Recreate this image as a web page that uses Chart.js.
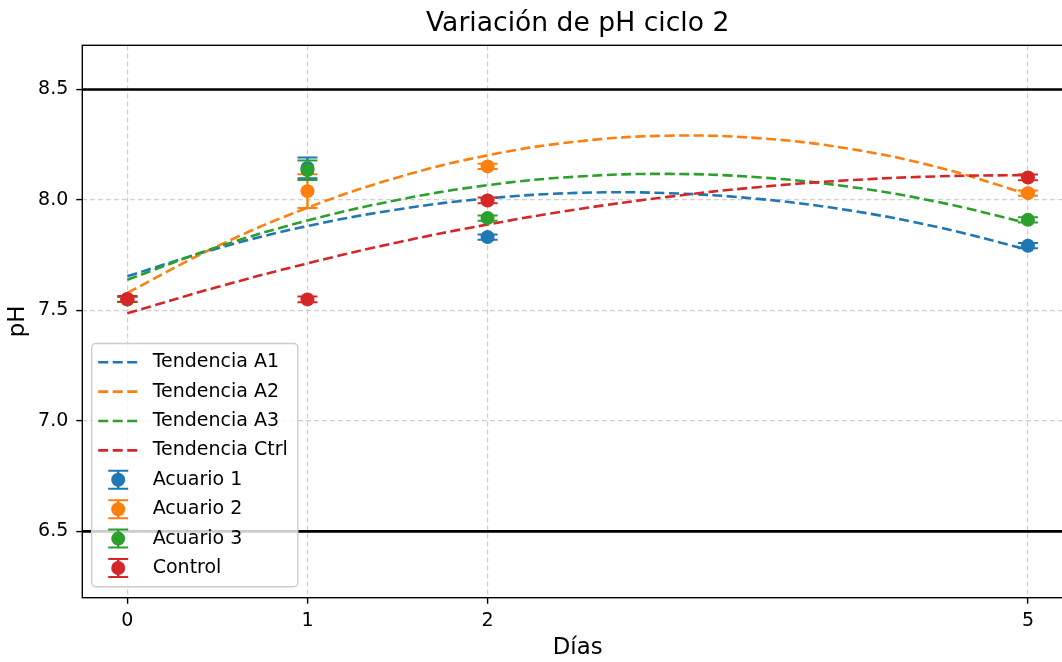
<!DOCTYPE html>
<html lang="es">
<head>
<meta charset="utf-8">
<title>Variación de pH ciclo 2</title>
<script src="https://cdn.jsdelivr.net/npm/chart.js@4"></script>
<style>
    html, body { margin: 0; padding: 0; overflow: hidden; background: #fff; }
    #wrap { width: 1080px; height: 662px; }
</style>
</head>
<body>
<div id="wrap"><canvas id="grafico" width="1080" height="662"></canvas></div>
<script>
// Datos
const dias = [0, 1, 2, 5];
const acuario1 = [7.55, 8.145, 7.832, 7.793];
const acuario2 = [7.55, 8.04, 8.152, 8.031];
const acuario3 = [7.55, 8.135, 7.918, 7.91];
const control = [7.552, 7.55, 7.998, 8.102];

// Desviaciones (barras de error)
const errA1 = [0.012, 0.047, 0.012, 0.012];
const errA2 = [0.012, 0.076, 0.012, 0.012];
const errA3 = [0.012, 0.044, 0.012, 0.012];
const errCtrl = [0.013, 0.013, 0.013, 0.013];

// Curvas de tendencia
const diasTendencia = [0, 0.5, 1, 1.5, 2, 2.5, 3, 3.5, 4, 4.5, 5];
const tendA1 = [7.655, 7.781, 7.882, 7.957, 8.007, 8.032, 8.031, 8.005, 7.954, 7.877, 7.775];
const tendA2 = [7.580, 7.791, 7.965, 8.102, 8.202, 8.265, 8.291, 8.280, 8.233, 8.148, 8.026];
const tendA3 = [7.639, 7.787, 7.907, 8.000, 8.067, 8.106, 8.118, 8.103, 8.061, 7.991, 7.895];
const tendCtrl = [7.487, 7.606, 7.713, 7.808, 7.889, 7.958, 8.014, 8.058, 8.089, 8.107, 8.113];

// Ejes
const ticksDias = [0, 1, 2, 5];
const ticksPH = [6.5, 7.0, 7.5, 8.0, 8.5];
const limitesPH = [6.5, 8.5];

const AZUL = '#1f77b4';
const NARANJA = '#ff7f0e';
const VERDE = '#2ca02c';
const ROJO = '#d62728';

const FUENTE = "'DejaVu Sans', sans-serif";
const TAM_TICKS = 19;

const puntos = (xs, ys) => xs.map((x, i) => ({ x: x, y: ys[i] }));

const tendencia = (label, ys, color, orden) => ({
    type: 'line',
    label: label,
    data: puntos(diasTendencia, ys),
    borderColor: color,
    backgroundColor: color,
    borderWidth: 2.6,
    borderDash: [10, 4.5],
    pointRadius: 0,
    tension: 0.4,
    fill: false,
    order: orden
});

const medicion = (label, ys, errores, color, orden) => ({
    type: 'scatter',
    label: label,
    data: puntos(dias, ys),
    errores: errores,
    backgroundColor: color,
    borderColor: color,
    borderWidth: 0,
    pointRadius: 7,
    pointHoverRadius: 7,
    order: orden
});

// Líneas horizontales de límite (6.5 y 8.5)
const limitesPlugin = {
    id: 'limites',
    beforeDatasetsDraw(chart) {
        const { ctx, chartArea, scales: { y } } = chart;
        ctx.save();
        ctx.strokeStyle = '#000';
        ctx.lineWidth = 2.6;
        limitesPH.forEach(v => {
            const py = y.getPixelForValue(v);
            ctx.beginPath();
            ctx.moveTo(chartArea.left, py);
            ctx.lineTo(chartArea.right, py);
            ctx.stroke();
        });
        ctx.restore();
    }
};

// Barras de error debajo de cada marcador
const barrasErrorPlugin = {
    id: 'barrasError',
    beforeDatasetDraw(chart, args) {
        const ds = chart.data.datasets[args.index];
        if (!ds.errores) return;
        const { ctx, scales: { x, y } } = chart;
        ctx.save();
        ctx.strokeStyle = ds.borderColor;
        ds.data.forEach((p, i) => {
            const px = x.getPixelForValue(p.x);
            const arriba = y.getPixelForValue(p.y + ds.errores[i]);
            const abajo = y.getPixelForValue(p.y - ds.errores[i]);
            ctx.lineWidth = 2.4;
            ctx.beginPath();
            ctx.moveTo(px, arriba);
            ctx.lineTo(px, abajo);
            ctx.stroke();
            ctx.lineWidth = 2;
            ctx.beginPath();
            ctx.moveTo(px - 10, arriba);
            ctx.lineTo(px + 10, arriba);
            ctx.moveTo(px - 10, abajo);
            ctx.lineTo(px + 10, abajo);
            ctx.stroke();
        });
        ctx.restore();
    }
};

// Marco de los ejes
const marcoPlugin = {
    id: 'marco',
    afterDatasetsDraw(chart) {
        const { ctx, chartArea: a } = chart;
        ctx.save();
        ctx.strokeStyle = '#000';
        ctx.lineWidth = 1.4;
        ctx.strokeRect(a.left, a.top, a.right - a.left, a.bottom - a.top);
        ctx.restore();
    }
};

// Leyenda estilo matplotlib, abajo a la izquierda
const leyendaPlugin = {
    id: 'leyendaAbajo',
    afterDraw(chart) {
        const { ctx, chartArea: a } = chart;
        const datasets = chart.data.datasets;
        const fila = 29.4;
        ctx.save();
        ctx.font = TAM_TICKS + 'px ' + FUENTE;
        const anchoTexto = Math.max(...datasets.map(d => ctx.measureText(d.label).width));
        const izq = a.left + 9.4;
        const alto = fila * datasets.length + 8;
        const abajo = a.bottom - 11;
        const arriba = abajo - alto;
        const ancho = 61 + anchoTexto + 10;

        ctx.beginPath();
        ctx.roundRect(izq, arriba, ancho, alto, 4);
        ctx.fillStyle = 'rgba(255,255,255,0.8)';
        ctx.fill();
        ctx.strokeStyle = '#cccccc';
        ctx.lineWidth = 1.4;
        ctx.stroke();

        datasets.forEach((d, i) => {
            const cy = arriba + 4 + fila * (i + 0.5);
            const x0 = izq + 6.5;
            const x1 = x0 + 40;
            const cx = (x0 + x1) / 2;
            if (d.errores) {
                ctx.strokeStyle = d.borderColor;
                ctx.lineWidth = 2.4;
                ctx.beginPath();
                ctx.moveTo(cx, cy - 9);
                ctx.lineTo(cx, cy + 9);
                ctx.stroke();
                ctx.lineWidth = 2;
                ctx.beginPath();
                ctx.moveTo(cx - 10, cy - 9);
                ctx.lineTo(cx + 10, cy - 9);
                ctx.moveTo(cx - 10, cy + 9);
                ctx.lineTo(cx + 10, cy + 9);
                ctx.stroke();
                ctx.fillStyle = d.backgroundColor;
                ctx.beginPath();
                ctx.arc(cx, cy, 7, 0, Math.PI * 2);
                ctx.fill();
            } else {
                ctx.strokeStyle = d.borderColor;
                ctx.lineWidth = 2.6;
                ctx.setLineDash(d.borderDash);
                ctx.beginPath();
                ctx.moveTo(x0, cy);
                ctx.lineTo(x1, cy);
                ctx.stroke();
                ctx.setLineDash([]);
            }
            ctx.fillStyle = '#000';
            ctx.textAlign = 'left';
            ctx.textBaseline = 'middle';
            ctx.fillText(d.label, izq + 61, cy);
        });
        ctx.restore();
    }
};

Chart.defaults.font.family = FUENTE;
Chart.defaults.color = '#000';

new Chart(document.getElementById('grafico'), {
    type: 'scatter',
    data: {
        datasets: [
            tendencia('Tendencia A1', tendA1, AZUL, 14),
            tendencia('Tendencia A2', tendA2, NARANJA, 13),
            tendencia('Tendencia A3', tendA3, VERDE, 12),
            tendencia('Tendencia Ctrl', tendCtrl, ROJO, 11),
            medicion('Acuario 1', acuario1, errA1, AZUL, 4),
            medicion('Acuario 2', acuario2, errA2, NARANJA, 3),
            medicion('Acuario 3', acuario3, errA3, VERDE, 2),
            medicion('Control', control, errCtrl, ROJO, 1)
        ]
    },
    options: {
        responsive: false,
        animation: false,
        devicePixelRatio: 1,
        layout: { padding: { left: 0, right: 7, top: 0, bottom: 0 } },
        plugins: {
            legend: { display: false },
            tooltip: { enabled: false },
            title: {
                display: true,
                text: 'Variación de pH ciclo 2',
                fullSize: false,
                color: '#000',
                font: { size: 26.6, weight: 'normal' },
                padding: { top: 8.5, bottom: 4.9 }
            }
        },
        scales: {
            x: {
                type: 'linear',
                min: -0.25,
                max: 5.25,
                afterBuildTicks(scale) {
                    scale.ticks = ticksDias.map(v => ({ value: v }));
                },
                afterFit(scale) {
                    scale.height = 64.3;
                },
                ticks: {
                    font: { size: TAM_TICKS },
                    color: '#000',
                    padding: 6,
                    maxRotation: 0,
                    autoSkip: false,
                    callback: v => String(v)
                },
                grid: {
                    color: '#d0d0d0',
                    lineWidth: 1.2,
                    tickLength: 6,
                    tickWidth: 1.4,
                    tickColor: '#000',
                    tickBorderDash: []
                },
                border: { display: false, dash: [5, 3] },
                title: {
                    display: true,
                    text: 'Días',
                    color: '#000',
                    font: { size: 22.8 },
                    padding: { top: 0, bottom: 0 }
                }
            },
            y: {
                type: 'linear',
                min: 6.2,
                max: 8.7,
                afterBuildTicks(scale) {
                    scale.ticks = ticksPH.map(v => ({ value: v }));
                },
                afterFit(scale) {
                    scale.width = 82.3;
                },
                ticks: {
                    font: { size: TAM_TICKS },
                    color: '#000',
                    padding: 8,
                    autoSkip: false,
                    callback: v => v.toFixed(1)
                },
                grid: {
                    color: '#d0d0d0',
                    lineWidth: 1.2,
                    tickLength: 6,
                    tickWidth: 1.4,
                    tickColor: '#000',
                    tickBorderDash: []
                },
                border: { display: false, dash: [5, 3] },
                title: {
                    display: true,
                    text: 'pH',
                    color: '#000',
                    font: { size: 22.8 },
                    padding: { top: 4.6, bottom: 0 }
                }
            }
        }
    },
    plugins: [limitesPlugin, barrasErrorPlugin, marcoPlugin, leyendaPlugin]
});
</script>
</body>
</html>
